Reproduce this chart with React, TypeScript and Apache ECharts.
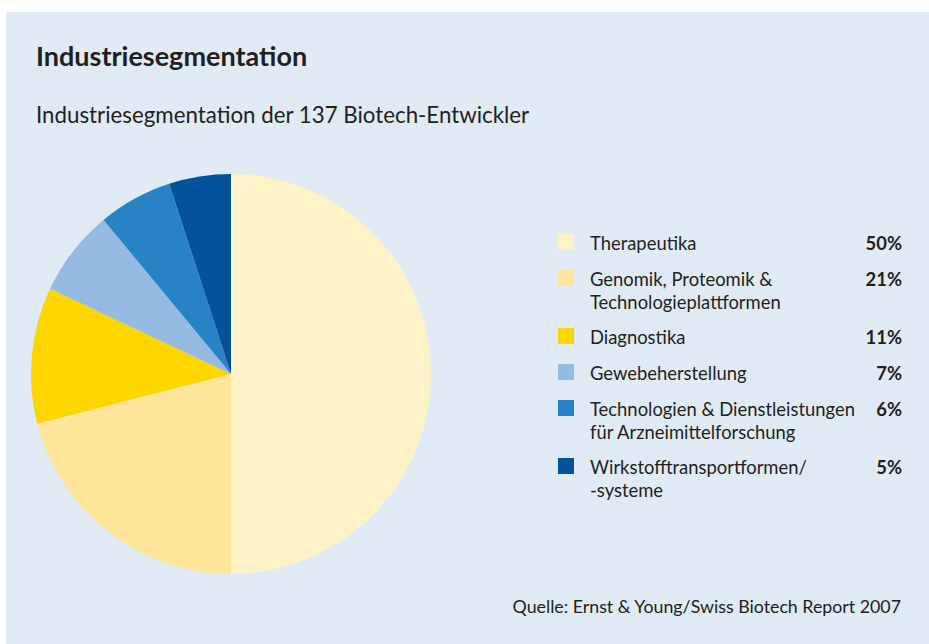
import React, { useEffect, useRef } from "react";
import * as echarts from "echarts";

const categories = [
  "Therapeutika",
  "Genomik, Proteomik &\nTechnologieplattformen",
  "Diagnostika",
  "Gewebeherstellung",
  "Technologien & Dienstleistungen\nfür Arzneimittelforschung",
  "Wirkstofftransportformen/\n-systeme",
];
const shares = [50, 21, 11, 7, 6, 5];
const colors = ["#fdf2c8", "#fde69a", "#fdd600", "#95bbe3", "#2882c6", "#04539a"];

const titleText = "Industriesegmentation";
const subtitleText = "Industriesegmentation der 137 Biotech-Entwickler";
const sourceText = "Quelle: Ernst & Young/Swiss Biotech Report 2007";

const FONT = "Lato, 'Open Sans', sans-serif";
const INK = "#231f20";

export default function App() {
  const ref = useRef<HTMLDivElement>(null);
  useEffect(() => {
    if (!ref.current) return;
    const chart = echarts.init(ref.current, null, { renderer: "svg" });

    const legendEls: any[] = [];
    let y = 234;
    categories.forEach((name, i) => {
      const lines = name.split("\n").length;
      legendEls.push({
        type: "rect",
        shape: { x: 558, y, width: 16, height: 16 },
        style: { fill: colors[i] },
      });
      legendEls.push({
        type: "text",
        x: 590,
        y: y - 3,
        style: {
          text: name,
          font: `18.4px ${FONT}`,
          lineHeight: 23,
          fill: INK,
          textAlign: "left",
          textVerticalAlign: "top",
        },
      });
      legendEls.push({
        type: "text",
        x: 902,
        y: y - 3,
        style: {
          text: shares[i] + "%",
          font: `bold 18.4px ${FONT}`,
          lineHeight: 23,
          fill: INK,
          textAlign: "right",
          textVerticalAlign: "top",
        },
      });
      y += 36 + 22 * (lines - 1);
    });

    chart.setOption({
      animation: false,
      backgroundColor: "#ffffff",
      graphic: [
        {
          type: "rect",
          z: -10,
          shape: { x: 6, y: 12, width: 923, height: 632 },
          style: { fill: "#e0ebf5" },
        },
        {
          type: "text",
          x: 36,
          y: 69,
          style: {
            text: titleText,
            font: `bold 27px ${FONT}`,
            fill: INK,
            textAlign: "left",
            textVerticalAlign: "bottom",
          },
        },
        {
          type: "text",
          x: 36,
          y: 125,
          style: {
            text: subtitleText,
            font: `22.3px ${FONT}`,
            fill: INK,
            textAlign: "left",
            textVerticalAlign: "bottom",
          },
        },
        {
          type: "text",
          x: 901,
          y: 615,
          style: {
            text: sourceText,
            font: `17.8px ${FONT}`,
            fill: INK,
            textAlign: "right",
            textVerticalAlign: "bottom",
          },
        },
        ...legendEls,
      ],
      series: [
        {
          type: "pie",
          center: [231, 374],
          radius: 200,
          startAngle: 90,
          clockwise: true,
          label: { show: false },
          labelLine: { show: false },
          emphasis: { disabled: true },
          data: categories.map((n, i) => ({
            name: n,
            value: shares[i],
            itemStyle: { color: colors[i] },
          })),
        },
      ],
    });
    return () => chart.dispose();
  }, []);
  return (
    <div
      ref={ref}
      style={{ position: "fixed", left: 0, top: 0, width: 929, height: 644 }}
    />
  );
}
